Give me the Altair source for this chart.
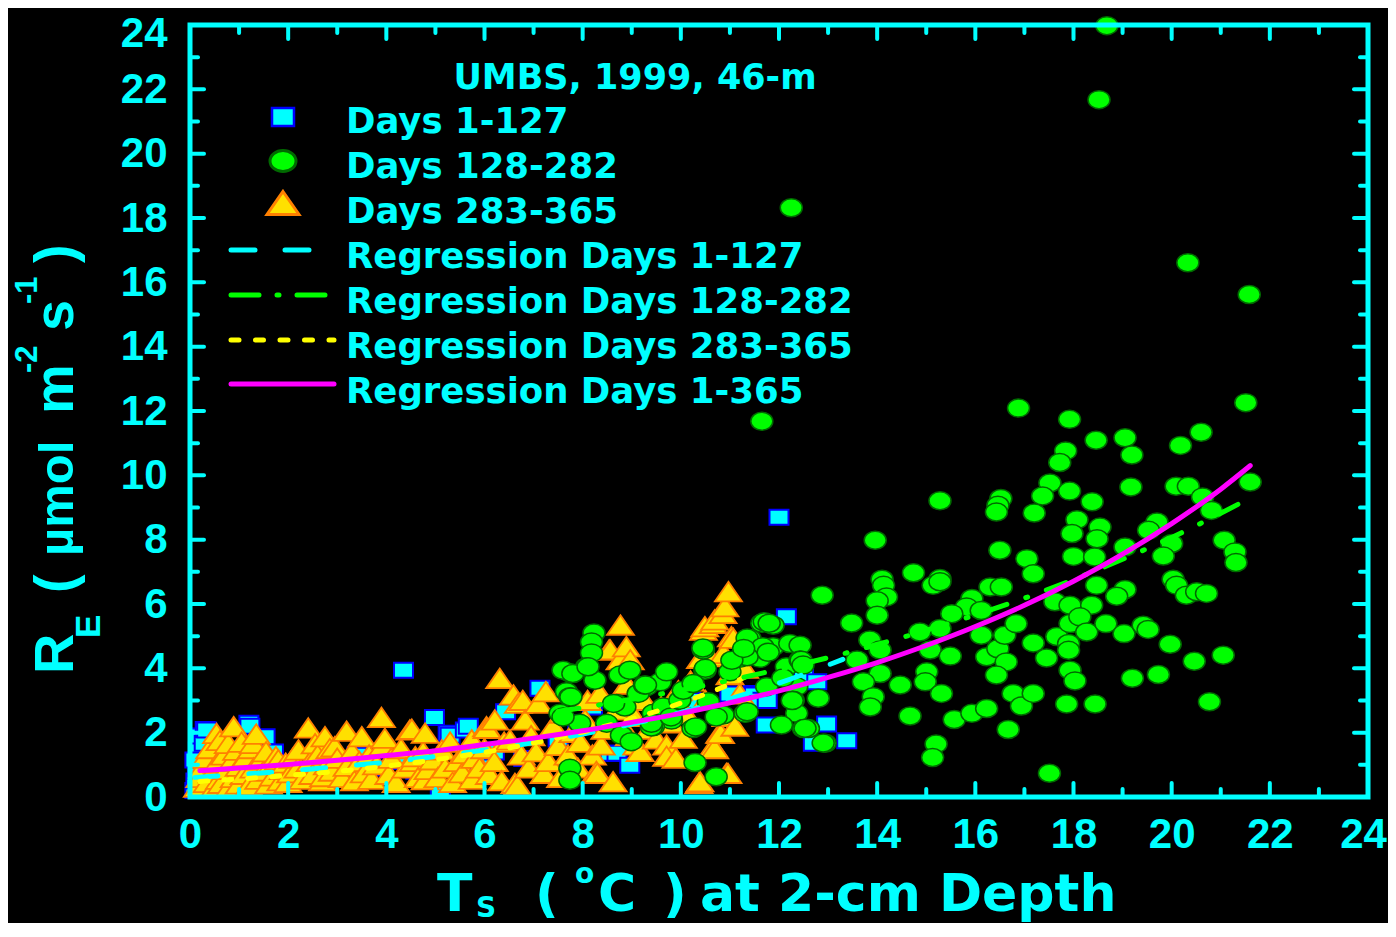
import altair as alt
import pandas as pd

# ---------------- data ----------------
SQUARES = [  # Days 1-127 : (Ts, RE)
    (0.10, 0.20), (0.12, 0.50), (0.15, 0.80), (0.17, 1.46), (0.10, 1.15), (0.20, 1.90),
    (0.25, 0.35), (0.29, 1.67), (0.31, 2.10), (0.34, 2.08), (0.40, 1.00), (0.45, 0.60),
    (0.50, 1.30), (0.55, 0.25), (0.60, 1.60), (0.70, 0.80), (0.80, 1.20), (0.90, 0.45),
    (1.00, 1.50), (1.10, 0.90), (1.20, 2.29), (1.22, 2.20), (1.30, 1.20), (1.44, 1.77),
    (1.53, 1.87), (1.60, 0.70), (1.70, 1.40), (1.80, 1.00),
    (2.2, 0.8), (2.6, 1.1), (3.0, 0.7), (3.4, 1.3), (3.8, 0.9), (4.2, 1.1), (4.35, 3.94),
    (4.6, 0.8), (4.98, 2.47), (5.1, 0.2), (5.26, 1.98), (5.3, 1.92), (5.61, 2.08),
    (5.67, 2.20), (5.9, 1.0), (6.2, 1.4), (6.43, 2.65), (6.8, 1.2), (7.13, 3.38),
    (7.5, 1.8), (7.9, 2.3),
    (8.2, 2.8), (8.56, 1.36), (8.7, 1.36), (8.96, 0.99), (9.5, 2.5), (10.2, 3.0),
    (11.0, 3.2), (11.48, 3.22), (11.5, 3.17), (11.61, 3.01), (11.74, 2.24), (11.76, 3.0),
    (12.0, 8.7), (12.15, 5.6), (12.5, 3.72), (12.7, 1.67), (12.77, 3.58), (12.97, 2.27),
    (13.38, 1.75),
]

CIRCLES = [  # Days 128-282
    (18.68, 23.98), (18.52, 21.68), (20.33, 16.61), (21.58, 15.62), (12.25, 18.32), (11.65, 11.68),
    (16.88, 12.09), (17.92, 11.74), (18.46, 11.09), (19.05, 11.17), (20.6, 11.34), (21.51, 12.26),
    (20.18, 10.93), (17.84, 10.76), (17.72, 10.4), (19.19, 10.63), (15.28, 9.21), (16.52, 9.28),
    (16.46, 9.07), (16.43, 8.86), (17.52, 9.76), (17.37, 9.36), (17.92, 9.51), (17.2, 8.83),
    (18.38, 9.18), (19.17, 9.64), (20.09, 9.66), (20.34, 9.66), (20.63, 9.33), (20.81, 8.91),
    (21.6, 9.79), (13.96, 7.98), (18.07, 8.62), (18.54, 8.39), (17.97, 8.19), (18.48, 8.03),
    (19.7, 8.55), (19.53, 8.29), (20.0, 7.88), (19.83, 7.49), (21.07, 7.98), (21.29, 7.62),
    (21.31, 7.29), (16.5, 7.67), (17.05, 7.41), (19.05, 7.77), (18.0, 7.48), (18.43, 7.46),
    (14.74, 6.97), (15.28, 6.79), (14.1, 6.77), (17.18, 6.94), (20.03, 6.77),
    (12.88, 6.27), (14.13, 6.58), (14.19, 6.22), (14.0, 6.1), (14.0, 5.65), (13.48, 5.41),
    (15.14, 6.58), (15.28, 6.69), (16.3, 6.53), (16.53, 6.53), (19.05, 6.45), (18.88, 6.24),
    (20.1, 6.58), (20.3, 6.27), (20.51, 6.38), (20.71, 6.33), (17.62, 6.07), (17.93, 5.96),
    (18.37, 5.96), (18.47, 6.58), (15.93, 6.17), (15.82, 5.91), (15.52, 5.7), (16.12, 5.8),
    (15.28, 5.24), (14.87, 5.13), (15.08, 4.57), (15.49, 4.38), (13.85, 4.88), (14.06, 4.57),
    (13.59, 4.26), (14.06, 3.84), (13.72, 3.58), (14.47, 3.48), (13.92, 3.12), (13.86, 2.8),
    (15.01, 3.89), (14.98, 3.58), (15.31, 3.22), (14.67, 2.52), (15.57, 2.41), (15.93, 2.6),
    (16.23, 2.75), (15.2, 1.65), (15.13, 1.23), (16.67, 2.1), (16.12, 5.03), (16.23, 4.36),
    (16.46, 4.61), (16.63, 4.2), (16.43, 3.79), (16.77, 3.22), (16.94, 2.83), (17.18, 3.22),
    (16.6, 5.03), (16.83, 5.39), (17.18, 4.79), (17.45, 4.32), (17.66, 4.99), (17.9, 4.77),
    (17.9, 4.56), (17.93, 3.94), (18.03, 3.61), (17.86, 2.89), (18.44, 2.89), (17.93, 5.39),
    (18.13, 5.6), (18.27, 5.13), (18.66, 5.39), (19.03, 5.08), (19.42, 5.34), (19.52, 5.21),
    (19.97, 4.75), (20.46, 4.22), (21.05, 4.41), (19.2, 3.69), (19.73, 3.81), (20.77, 2.96),
    (17.51, 0.74), (12.94, 1.67), (12.6, 2.13), (12.8, 3.07),
    (8.23, 5.1), (8.18, 4.82), (8.18, 4.48), (8.08, 4.05), (7.74, 3.86), (8.25, 3.63),
    (7.67, 3.27), (7.74, 3.12), (7.54, 2.6), (7.94, 2.29), (8.49, 2.29), (8.76, 3.79),
    (8.96, 3.94), (9.3, 3.43), (9.58, 3.58), (9.71, 3.89), (8.69, 2.91), (8.86, 2.8),
    (9.13, 3.22), (9.44, 2.6), (9.64, 2.8), (9.98, 3.01), (10.05, 3.32), (9.81, 2.39),
    (9.44, 2.19), (8.79, 1.92), (8.99, 1.72), (10.25, 2.13), (10.46, 4.57), (10.49, 3.94),
    (10.25, 3.53), (10.56, 2.96), (10.86, 2.55), (11.33, 2.62), (11.0, 3.89), (11.2, 4.31),
    (11.41, 4.93), (11.65, 5.4), (11.88, 5.34), (11.61, 4.31), (11.88, 4.67), (12.22, 4.77),
    (12.43, 4.72), (12.15, 4.05), (12.43, 4.26), (12.36, 3.43), (12.29, 3.01), (12.36, 2.6),
    (12.05, 2.24), (12.5, 2.13), (11.75, 3.43), (7.74, 0.89), (7.74, 0.52), (10.29, 1.07),
    (10.72, 0.63), (7.6, 3.94), (11.35, 4.94), (10.5, 4.0), (9.26, 3.48), (8.63, 2.91),
    (9.4, 2.18), (10.72, 2.49), (11.31, 2.6), (12.53, 2.14), (12.9, 1.68), (12.27, 3.0),
    (12.08, 3.7), (12.45, 4.25), (11.67, 4.67), (11.35, 4.36), (12.49, 4.1), (7.8, 3.84),
    (7.76, 3.11), (7.6, 2.49), (8.11, 4.05), (9.28, 3.48), (9.4, 2.29), (9.8, 2.49),
    (10.3, 2.18), (11.04, 4.25), (11.28, 4.62), (11.7, 5.45), (11.8, 5.4), (11.78, 4.5),
    (11.35, 2.65), (10.45, 4.63),
]

TRIANGLES = [  # Days 283-365
    (0.15, 0.3), (0.2, 0.6), (0.25, 0.9), (0.3, 1.2), (0.35, 0.45), (0.4, 1.5), (0.45, 0.75),
    (0.5, 0.3), (0.54, 1.97), (0.55, 1.05), (0.6, 0.55), (0.61, 1.75), (0.64, 0.42), (0.7, 1.3),
    (0.75, 0.85), (0.78, 1.66), (0.8, 0.3), (0.85, 1.1), (0.89, 2.18), (0.9, 0.6), (0.95, 1.45),
    (1.0, 0.4), (1.0, 0.95),
    (1.05, 1.7), (1.1, 0.7), (1.15, 1.25), (1.2, 0.35), (1.25, 1.5), (1.29, 1.66), (1.3, 0.9),
    (1.35, 1.95), (1.4, 0.55), (1.45, 1.15), (1.5, 0.8), (1.55, 1.4), (1.6, 0.4), (1.65, 1.0),
    (1.7, 0.65), (1.75, 1.25), (1.8, 1.15), (1.85, 0.5), (1.9, 0.85), (1.95, 1.05),
    (2.0, 0.45), (2.05, 0.75), (2.1, 1.2), (2.2, 0.9), (2.21, 1.46), (2.3, 0.55), (2.41, 2.14),
    (2.45, 1.1), (2.5, 0.7), (2.55, 1.65), (2.6, 1.3), (2.7, 0.5), (2.75, 1.87), (2.72, 0.63),
    (2.8, 1.0), (2.85, 1.5), (2.9, 0.8), (2.95, 1.56),
    (3.0, 1.2), (3.1, 0.6), (3.19, 2.04), (3.2, 0.95), (3.3, 1.4), (3.35, 0.5), (3.45, 1.1),
    (3.5, 1.87), (3.55, 0.75), (3.65, 1.3), (3.7, 0.55), (3.8, 1.0), (3.9, 2.47), (3.93, 1.6),
    (3.97, 1.82),
    (4.05, 0.7), (4.1, 1.2), (4.2, 0.45), (4.3, 1.5), (4.4, 0.9), (4.48, 2.08), (4.52, 2.1),
    (4.55, 1.1), (4.59, 1.25), (4.65, 0.6), (4.75, 1.4), (4.79, 1.98), (4.79, 0.53),
    (4.85, 0.85), (4.95, 1.15),
    (5.05, 0.6), (5.13, 1.46), (5.2, 0.9), (5.3, 1.7), (5.35, 0.45), (5.45, 1.1), (5.55, 0.75),
    (5.6, 1.35), (5.74, 1.77), (5.75, 0.55), (5.8, 1.2), (5.9, 0.9), (6.0, 1.5),
    (6.04, 2.18), (6.05, 2.13), (6.1, 0.7), (6.2, 1.1), (6.21, 2.39), (6.31, 3.68), (6.35, 0.5),
    (6.4, 1.7), (6.52, 1.77), (6.59, 3.17), (6.62, 0.42), (6.67, 0.36), (6.69, 2.91),
    (6.75, 1.3), (6.78, 3.0), (6.83, 2.39), (6.9, 0.9), (6.95, 1.9),
    (7.05, 1.4), (7.1, 2.91), (7.21, 0.73), (7.25, 3.27), (7.3, 1.1), (7.4, 2.2), (7.5, 1.6),
    (7.55, 0.6), (7.6, 2.6), (7.7, 1.3), (7.8, 2.0), (7.9, 0.9), (7.95, 1.7),
    (8.05, 2.4), (8.1, 3.0), (8.2, 1.3), (8.28, 0.79), (8.3, 0.73), (8.35, 3.22), (8.38, 1.61),
    (8.45, 2.1), (8.54, 4.57), (8.56, 4.57), (8.62, 0.47), (8.7, 2.7), (8.76, 4.26),
    (8.77, 5.34), (8.89, 4.67), (8.9, 3.5), (8.97, 4.26), (8.95, 1.9),
    (9.05, 2.5), (9.1, 1.61), (9.17, 1.41), (9.25, 3.0), (9.35, 2.1), (9.5, 1.8), (9.6, 2.8),
    (9.71, 1.61), (9.71, 1.26), (9.8, 2.3), (9.9, 1.2), (9.95, 3.3),
    (10.05, 1.82), (10.1, 2.6), (10.2, 3.6), (10.37, 0.42), (10.39, 0.47), (10.4, 4.3),
    (10.46, 5.18), (10.49, 5.29), (10.5, 3.0), (10.59, 4.36), (10.66, 5.39), (10.66, 1.57),
    (10.69, 5.5), (10.69, 1.5), (10.79, 1.98), (10.81, 1.97), (10.86, 5.7), (10.87, 4.46),
    (10.9, 5.91), (10.92, 2.5), (10.93, 0.73), (10.96, 0.73), (10.97, 6.38), (11.0, 3.8),
    (11.03, 4.98), (11.07, 4.93), (11.1, 2.2), (11.2, 3.2), (11.3, 4.0),
]

# regression curves
REG_1_127_T = [0.1, 1, 2, 3, 4, 5, 6, 7, 8, 9, 10, 11, 12, 13, 13.3]
REG_1_127_R = [0.61, 0.70, 0.81, 0.94, 1.08, 1.26, 1.46, 1.69, 1.96, 2.27, 2.63, 3.05, 3.54, 4.10, 4.28]
REG_128_282_T = [7.5, 8, 9, 10, 11, 12, 13, 14, 15, 16, 17, 18, 19, 20, 21, 21.6]
REG_128_282_R = [2.66, 2.78, 3.04, 3.32, 3.63, 3.97, 4.33, 4.74, 5.18, 5.66, 6.18, 6.76, 7.39, 8.07, 8.82, 9.30]
REG_283_365_T = [0.2, 1, 2, 3, 4, 5, 6, 7, 8, 9, 10, 11, 11.3]
REG_283_365_R = [0.48, 0.56, 0.67, 0.80, 0.96, 1.16, 1.39, 1.68, 2.02, 2.43, 2.92, 3.51, 3.72]
REG_ALL_T = [0.2, 1, 2, 3, 4, 5, 6, 7, 8, 9, 10, 11, 12, 13, 14, 15, 16, 17, 18, 19, 20, 21, 21.6]
REG_ALL_R = [0.82, 0.90, 1.01, 1.14, 1.29, 1.44, 1.63, 1.83, 2.06, 2.32, 2.60, 2.93, 3.30, 3.72,
             4.18, 4.71, 5.30, 5.96, 6.71, 7.55, 8.50, 9.57, 10.30]

TICK_VALUES = list(range(0, 25))
LABEL_VALUES = list(range(0, 25, 2))

LEGEND_TITLE = "UMBS, 1999, 46-m"
LEGEND_LABELS = ["Days 1-127", "Days 128-282", "Days 283-365",
                 "Regression Days 1-127", "Regression Days 128-282",
                 "Regression Days 283-365", "Regression Days 1-365"]
Y_TITLE_PARTS = ["R", "E", "(", "µmol", "m", "-2", "s", "-1", ")"]
X_TITLE_PARTS = ["T", "S", "(", "o", "C", ")", "at 2-cm Depth"]

# ---------------- styling ----------------
CYAN = "#00FFFF"
BLUE = "#0000FF"
LIME = "#00FF00"
DKGREEN = "#006A00"
YELLOW = "#FFE000"
ORANGE = "#FF8000"
DASHYEL = "#FFFF00"
MAGENTA = "#FF00FF"
W, H = 1178, 772
BOLD_FONT = "DejaVu Sans"
NARROW = "Liberation Sans Narrow, Liberation Sans, Arial"

xs = alt.Scale(domain=[0, 24], nice=False, zero=False)
ys = alt.Scale(domain=[0, 24], nice=False, zero=False)
ax_x = alt.Axis(values=LABEL_VALUES, title=None, ticks=False, tickSize=0, domain=False, grid=False,
                labelPadding=17, labelFont="Liberation Sans", labelFontWeight="bold",
                labelFontSize=42, labelColor=CYAN, labelFlush=False, labelOverlap=False,
                labelBaseline="top",
                labelOffset={"condition": {"test": "datum.value == 24", "value": -5}, "value": 0})
ax_y = alt.Axis(values=LABEL_VALUES, title=None, ticks=False, tickSize=0, domain=False, grid=False,
                labelPadding=23, labelFont="Liberation Sans", labelFontWeight="bold",
                labelFontSize=42, labelColor=CYAN, labelFlush=False, labelOverlap=False,
                labelBaseline="middle", labelAlign="right",
                labelOffset={"condition": {"test": "datum.value == 24", "value": 8}, "value": 0})


def X(f):
    return alt.X(f, type="quantitative", scale=xs, axis=ax_x)


def Y(f):
    return alt.Y(f, type="quantitative", scale=ys, axis=ax_y)


def pts(pairs):
    return pd.DataFrame({"T": [p[0] for p in pairs], "R": [p[1] for p in pairs]})


SQ_PATH = "M-9.5,-7.5L9.5,-7.5L9.5,7.5L-9.5,7.5Z"
CI_PATH = "M-11,0A11,9 0 1 0 11,0A11,9 0 1 0 -11,0Z"
TR_PATH = "M0,-10L13.5,9.5L-13.5,9.5Z"
SQ_LEG = "M-11,-9L11,-9L11,9L-11,9Z"
CI_LEG = "M-13,0A13,10.5 0 1 0 13,0A13,10.5 0 1 0 -13,0Z"
TR_LEG = "M0,-11.5L16,11.5L-16,11.5Z"

one = alt.Data(values=[{}])
layers = []

# scatter
layers.append(alt.Chart(pts(SQUARES)).mark_point(shape=SQ_PATH, size=4, filled=True, fill=CYAN,
              stroke=BLUE, strokeWidth=2, opacity=1).encode(x=X("T"), y=Y("R")))
layers.append(alt.Chart(pts(TRIANGLES)).mark_point(shape=TR_PATH, size=4, filled=True, fill=YELLOW,
              stroke=ORANGE, strokeWidth=1.8, opacity=1).encode(x=X("T"), y=Y("R")))
layers.append(alt.Chart(pts(CIRCLES)).mark_point(shape=CI_PATH, size=4, filled=True, fill=LIME,
              stroke=DKGREEN, strokeWidth=1.5, opacity=1).encode(x=X("T"), y=Y("R")))


def curve(t, r, color, dash):
    df = pd.DataFrame({"T": t, "R": r})
    kw = dict(color=color, strokeWidth=5, interpolate="monotone", strokeCap="round")
    if dash:
        kw["strokeDash"] = dash
    return alt.Chart(df).mark_line(**kw).encode(x=X("T"), y=Y("R"), order="T:Q")


layers.append(curve(REG_1_127_T, REG_1_127_R, CYAN, [23, 31]))
layers.append(curve(REG_283_365_T, REG_283_365_R, DASHYEL, [8, 16]))
layers.append(curve(REG_128_282_T, REG_128_282_R, LIME, [21, 20, 2, 20]))
layers.append(curve(REG_ALL_T, REG_ALL_R, MAGENTA, None))

# frame and inward ticks
ticks = pd.DataFrame({"v": TICK_VALUES})
for major, L in ((True, 14), (False, 8)):
    test = "datum.v % 2 == 0" if major else "datum.v % 2 == 1"
    base = alt.Chart(ticks).transform_filter(test)
    rk = dict(color=CYAN, strokeWidth=4, strokeCap="round")
    layers.append(base.mark_rule(**rk).encode(x=X("v"), y=alt.value(H), y2=alt.value(H - L)))
    layers.append(base.mark_rule(**rk).encode(x=X("v"), y=alt.value(0), y2=alt.value(L)))
    layers.append(base.mark_rule(**rk).encode(y=Y("v"), x=alt.value(0), x2=alt.value(L)))
    layers.append(base.mark_rule(**rk).encode(y=Y("v"), x=alt.value(W), x2=alt.value(W - L)))

layers.append(alt.Chart(one).mark_rect(fill="transparent", stroke=CYAN, strokeWidth=5).encode(
    x=alt.value(0), x2=alt.value(W), y=alt.value(0), y2=alt.value(H)))

# legend (drawn by hand)
layers.append(alt.Chart(one).mark_text(text=LEGEND_TITLE, font=BOLD_FONT, fontWeight="bold",
              fontSize=35, color=CYAN, align="center", baseline="alphabetic").encode(
    x=alt.value(445), y=alt.value(64)))
for i, lab in enumerate(LEGEND_LABELS):
    layers.append(alt.Chart(one).mark_text(text=lab, font=BOLD_FONT, fontWeight="bold",
                  fontSize=35.5, color=CYAN, align="left", baseline="alphabetic").encode(
        x=alt.value(156), y=alt.value(108 + 45 * i)))
leg_sym = [(SQ_LEG, CYAN, BLUE, 2.5, 92), (CI_LEG, LIME, DKGREEN, 3, 136), (TR_LEG, YELLOW, ORANGE, 3, 178)]
for path, fc, sc, sw, yy in leg_sym:
    layers.append(alt.Chart(one).mark_point(shape=path, size=4, filled=True, fill=fc, stroke=sc,
                  strokeWidth=sw, opacity=1).encode(x=alt.value(93), y=alt.value(yy)))
leg_lines = [(CYAN, [24, 30], 225), (LIME, [28, 18, 2, 18], 270), (DASHYEL, [8, 16.5], 315),
             (MAGENTA, None, 359)]
for col, dash, yy in leg_lines:
    kw = dict(color=col, strokeWidth=5, strokeCap="round")
    if dash:
        kw["strokeDash"] = dash
    layers.append(alt.Chart(one).mark_rule(**kw).encode(
        x=alt.value(41), x2=alt.value(144), y=alt.value(yy)))

# y-axis title pieces (rotated)
y_pos = [(-117, 649, 56), (-90, 613, 35), (-117, 568, 56), (-117, 531, 49), (-117, 389, 56),
         (-153, 348, 31), (-117, 306, 56), (-153, 279, 31), (-117, 238, 56)]
for txt, (px, py, fs) in zip(Y_TITLE_PARTS, y_pos):
    layers.append(alt.Chart(one).mark_text(text=txt, font=NARROW, fontWeight="bold", fontSize=fs,
                  color=CYAN, angle=270, align="left", baseline="alphabetic").encode(
        x=alt.value(px), y=alt.value(py)))

# x-axis title pieces
x_pos = [(247, 886, 52), (286, 892, 28), (345, 886, 52), (385, 858, 28), (408, 886, 52),
         (473, 886, 52), (510, 886, 52)]
for txt, (px, py, fs) in zip(X_TITLE_PARTS, x_pos):
    layers.append(alt.Chart(one).mark_text(text=txt, font=BOLD_FONT, fontWeight="bold", fontSize=fs,
                  color=CYAN, align="left", baseline="alphabetic").encode(
        x=alt.value(px), y=alt.value(py)))

chart = alt.layer(*layers).properties(
    width=W, height=H,
    autosize=alt.AutoSizeParams(type="none"),
    padding={"left": 182, "top": 17, "right": 20, "bottom": 126},
    background="black",
).configure_view(stroke="transparent")

chart.save("out.html", embed_options={"renderer": "svg", "actions": False})
